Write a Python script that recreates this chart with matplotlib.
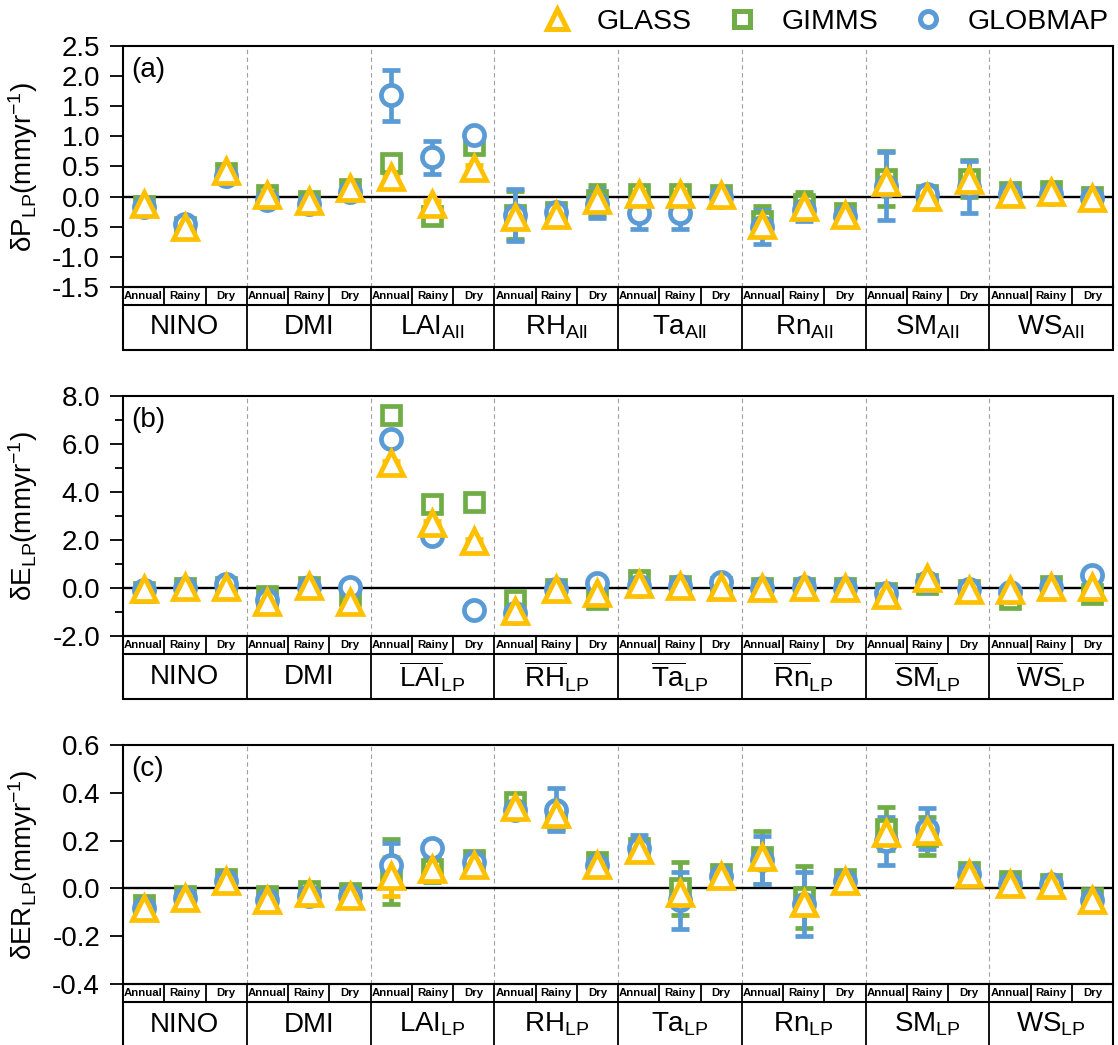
import numpy as np
import matplotlib
matplotlib.use("Agg")
import matplotlib.pyplot as plt
from matplotlib.lines import Line2D
from matplotlib.patches import Rectangle

plt.rcParams['font.family'] = ['Liberation Sans', 'DejaVu Sans']
plt.rcParams['mathtext.fontset'] = 'custom'
plt.rcParams['mathtext.rm'] = 'Liberation Sans'
plt.rcParams['mathtext.it'] = 'Liberation Sans:italic'
plt.rcParams['mathtext.bf'] = 'Liberation Sans:bold'

seasons = ['Annual', 'Rainy', 'Dry']
drivers = ['NINO', 'DMI', 'LAI', 'RH', 'Ta', 'Rn', 'SM', 'WS']
series_names = ['GLASS', 'GIMMS', 'GLOBMAP']

# ---- panel (a): dP_LP, order NINO, DMI, LAI, RH, Ta, Rn, SM, WS x (Annual, Rainy, Dry)
glass_a = [-0.12, -0.50, 0.42, 0.02, -0.07, 0.14, 0.32, -0.12, 0.47, -0.33, -0.30, -0.05,
           0.05, 0.05, 0.02, -0.47, -0.17, -0.30, 0.25, 0.00, 0.27, 0.05, 0.08, -0.03]
glass_a_err = [0.05, 0.05, 0.05, 0.05, 0.05, 0.05, 0.05, 0.05, 0.05, 0.05, 0.05, 0.05,
               0.05, 0.05, 0.05, 0.05, 0.05, 0.05, 0.05, 0.05, 0.05, 0.05, 0.05, 0.05]
gimms_a = [-0.15, -0.50, 0.40, 0.02, -0.08, 0.13, 0.55, -0.32, 0.85, -0.30, -0.25, -0.05,
           0.05, 0.05, 0.03, -0.40, -0.12, -0.28, 0.30, 0.02, 0.30, 0.07, 0.10, 0.00]
gimms_a_err = [0.05, 0.05, 0.05, 0.05, 0.05, 0.05, 0.08, 0.05, 0.05, 0.40, 0.05, 0.25,
               0.05, 0.05, 0.05, 0.25, 0.20, 0.05, 0.45, 0.05, 0.30, 0.05, 0.05, 0.05]
globmap_a = [-0.18, -0.45, 0.35, -0.05, -0.12, 0.08, 1.68, 0.65, 1.02, -0.30, -0.25, -0.12,
             -0.27, -0.27, 0.00, -0.50, -0.22, -0.32, 0.18, 0.05, 0.16, 0.05, 0.05, -0.03]
globmap_a_err = [0.05, 0.05, 0.05, 0.05, 0.05, 0.05, 0.42, 0.27, 0.10, 0.43, 0.05, 0.24,
                 0.26, 0.26, 0.05, 0.28, 0.18, 0.05, 0.56, 0.05, 0.43, 0.05, 0.05, 0.05]

# ---- panel (b): dE_LP
glass_b = [-0.05, 0.05, 0.05, -0.60, 0.10, -0.60, 5.20, 2.70, 1.95, -0.95, -0.05, -0.20,
           0.15, 0.10, 0.05, 0.00, 0.05, 0.00, -0.30, 0.40, -0.10, -0.10, 0.05, 0.05]
gimms_b = [-0.15, 0.00, 0.05, -0.35, 0.05, -0.30, 7.20, 3.50, 3.60, -0.50, -0.05, -0.45,
           0.35, 0.10, 0.05, 0.00, 0.00, 0.00, -0.20, 0.15, -0.10, -0.45, 0.10, -0.25]
globmap_b = [-0.10, 0.00, 0.15, -0.50, 0.05, 0.05, 6.20, 2.15, -0.90, -1.05, -0.05, 0.20,
             0.10, 0.10, 0.25, 0.00, 0.05, 0.00, -0.20, 0.25, -0.05, -0.15, 0.05, 0.55]
glass_b_err = [0.1] * 24
gimms_b_err = [0.1] * 24
globmap_b_err = [0.1] * 24

# ---- panel (c): dER_LP
glass_c = [-0.08, -0.04, 0.03, -0.05, -0.02, -0.03, 0.05, 0.08, 0.10, 0.34, 0.31, 0.10,
           0.16, -0.02, 0.05, 0.13, -0.06, 0.03, 0.23, 0.24, 0.06, 0.02, 0.015, -0.05]
glass_c_err = [0.01, 0.01, 0.01, 0.01, 0.01, 0.01, 0.08, 0.02, 0.01, 0.02, 0.02, 0.01,
               0.02, 0.02, 0.01, 0.02, 0.02, 0.01, 0.02, 0.02, 0.01, 0.01, 0.01, 0.01]
gimms_c = [-0.07, -0.03, 0.04, -0.03, -0.01, -0.02, 0.07, 0.08, 0.12, 0.36, 0.30, 0.11,
           0.17, 0.00, 0.06, 0.13, -0.035, 0.04, 0.25, 0.22, 0.07, 0.03, 0.02, -0.04]
gimms_c_err = [0.01, 0.01, 0.01, 0.01, 0.01, 0.01, 0.135, 0.055, 0.02, 0.03, 0.05, 0.01,
               0.02, 0.11, 0.01, 0.11, 0.13, 0.01, 0.09, 0.08, 0.02, 0.01, 0.01, 0.01]
globmap_c = [-0.08, -0.04, 0.03, -0.05, -0.03, -0.03, 0.10, 0.17, 0.11, 0.33, 0.33, 0.10,
             0.17, -0.05, 0.05, 0.12, -0.065, 0.03, 0.20, 0.25, 0.06, 0.02, 0.02, -0.05]
globmap_c_err = [0.01, 0.01, 0.01, 0.01, 0.01, 0.01, 0.09, 0.03, 0.02, 0.03, 0.09, 0.01,
                 0.055, 0.12, 0.01, 0.10, 0.135, 0.01, 0.10, 0.085, 0.02, 0.01, 0.01, 0.01]

labels_a = drivers[:2] + [d + r'$_{\mathrm{All}}$' for d in drivers[2:]]
labels_b = drivers[:2] + [r'$\overline{\mathrm{%s}}_{\mathrm{LP}}$' % d for d in drivers[2:]]
labels_c = drivers[:2] + [d + r'$_{\mathrm{LP}}$' for d in drivers[2:]]

colors = {'GLASS': '#FFC000', 'GIMMS': '#70AD47', 'GLOBMAP': '#5B9BD5'}
markers = {'GLASS': ('^', 17), 'GIMMS': ('s', 13.5), 'GLOBMAP': ('o', 14.5)}

W, H = 1118, 1045
fig = plt.figure(figsize=(W / 100, H / 100), dpi=100)


def fx(px):
    return px / W


def fy(px):
    return 1 - px / H


def draw_panel(top, bottom, tab_bottom, data, ylim, yticks, minor, ylabel, tag, group_labels):
    left, right = 123, 1113
    ax = fig.add_axes([fx(left), fy(bottom), fx(right - left), (bottom - top) / H])
    tab = fig.add_axes([fx(left), fy(tab_bottom), fx(right - left), (tab_bottom - bottom) / H])
    x = np.arange(24) + 0.5
    # draw GIMMS first, then GLOBMAP, GLASS on top
    for name in ['GIMMS', 'GLOBMAP', 'GLASS']:
        vals, errs = data[name]
        m, ms = markers[name]
        ax.errorbar(x, vals, yerr=errs, fmt=m, ms=ms, mfc='white', mec=colors[name], mew=3.4,
                    ecolor=colors[name], elinewidth=3.4, capsize=6.5, capthick=3.4, zorder=3)
    ax.axhline(0, color='black', lw=1.7, zorder=2)
    for g in range(1, 8):
        ax.axvline(3 * g, color='#a0a0a0', ls=(0, (4, 3)), lw=0.8, zorder=1)
    ax.set_xlim(0, 24)
    ax.set_ylim(*ylim)
    ax.set_xticks([])
    ax.set_yticks(yticks)
    ax.set_yticklabels(['%.1f' % t for t in yticks], fontsize=20)
    if minor is not None:
        ax.set_yticks(minor, minor=True)
    ax.tick_params(axis='y', which='major', length=9.5, width=1.3, pad=7)
    ax.tick_params(axis='y', which='minor', length=5.5, width=1.3)
    for s in ax.spines.values():
        s.set_linewidth(1.5)
    ax.set_ylabel(ylabel, fontsize=20)
    ax.yaxis.set_label_coords(-0.084, 0.5)
    ax.text(0.008, 0.955, tag, transform=ax.transAxes, fontsize=20, va='top', ha='left')

    # table of season / driver labels
    split = 1 - 18 / (tab_bottom - bottom)
    tab.set_xlim(0, 24)
    tab.set_ylim(0, 1)
    tab.axis('off')
    tab.add_patch(Rectangle((0, 0), 24, 1, fill=False, lw=1.5, ec='black', clip_on=False))
    tab.plot([0, 24], [split, split], color='black', lw=1.5, clip_on=False)
    for i in range(1, 24):
        y0 = 0 if i % 3 == 0 else split
        tab.plot([i, i], [y0, 1], color='black', lw=1.3, clip_on=False)
    for i in range(24):
        tab.text(i + 0.5, (1 + split) / 2, seasons[i % 3], fontsize=8.2, fontweight='bold',
                 ha='center', va='center')
    for g in range(8):
        tab.text(3 * g + 1.5, split / 2, group_labels[g], fontsize=20, ha='center', va='center')
    return ax


draw_panel(46, 287, 350,
           {'GLASS': (glass_a, glass_a_err), 'GIMMS': (gimms_a, gimms_a_err),
            'GLOBMAP': (globmap_a, globmap_a_err)},
           (-1.5, 2.5), np.arange(-1.5, 2.51, 0.5), None,
           'δP$_{\\mathrm{LP}}$(mmyr$^{-1}$)', '(a)', labels_a)

draw_panel(396, 636, 699,
           {'GLASS': (glass_b, glass_b_err), 'GIMMS': (gimms_b, gimms_b_err),
            'GLOBMAP': (globmap_b, globmap_b_err)},
           (-2.0, 8.0), np.arange(-2.0, 8.01, 2.0), np.arange(-1.0, 8.0, 2.0),
           'δE$_{\\mathrm{LP}}$(mmyr$^{-1}$)', '(b)', labels_b)

draw_panel(745, 984, 1047,
           {'GLASS': (glass_c, glass_c_err), 'GIMMS': (gimms_c, gimms_c_err),
            'GLOBMAP': (globmap_c, globmap_c_err)},
           (-0.4, 0.6), np.arange(-0.4, 0.61, 0.2), None,
           'δER$_{\\mathrm{LP}}$(mmyr$^{-1}$)', '(c)', labels_c)

handles = []
legend_ms = {'GLASS': 14, 'GIMMS': 11, 'GLOBMAP': 11.5}
for name in series_names:
    m, _ = markers[name]
    handles.append(Line2D([], [], ls='none', marker=m, ms=legend_ms[name], mfc='white',
                          mec=colors[name], mew=3.6))
fig.legend(handles, series_names, loc='upper right', bbox_to_anchor=(0.992, 0.991), ncol=3,
           frameon=False, fontsize=20.5, handletextpad=0.9, columnspacing=1.25,
           handlelength=1.0, borderpad=0, borderaxespad=0)

fig.savefig('out.png', dpi=100)
